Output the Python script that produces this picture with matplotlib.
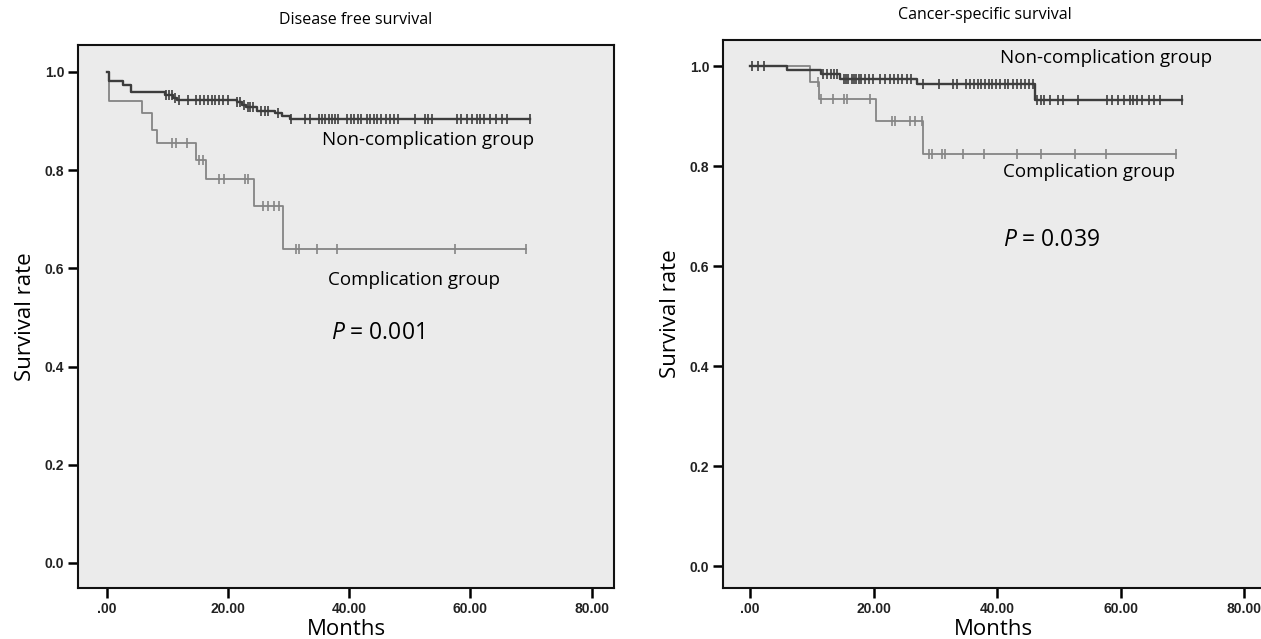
import numpy as np
import matplotlib
matplotlib.use('Agg')
import matplotlib.pyplot as plt

plt.rcParams['mathtext.fontset'] = 'custom'
plt.rcParams['mathtext.it'] = 'Open Sans:italic'
plt.rcParams['mathtext.rm'] = 'Open Sans'

# Disease free survival (left panel)
dfs_non_t = [0, 0.3, 2.7, 3.9, 9.6, 10.8, 11.5, 21.4, 22.2, 23.0, 24.8, 27.7, 28.8, 30.2, 69.8]
dfs_non_s = [1.0, 0.982, 0.974, 0.959, 0.953, 0.948, 0.942, 0.938, 0.933, 0.929, 0.921, 0.916, 0.910, 0.905, 0.905]
dfs_non_cens = [9.8, 10.3, 10.7, 11.2, 11.9, 13.3, 14.7, 15.3, 16.0, 16.7, 17.3, 17.8, 18.4, 19.2, 19.9,
                21.4, 22.0, 22.6, 23.2, 23.6, 24.1, 25.4, 26.0, 26.5, 28.3, 30.3, 32.7, 33.5, 35.0, 35.5,
                36.0, 36.6, 37.2, 37.6, 38.1, 39.6, 40.2, 40.8, 41.4, 42.0, 42.9, 43.4, 44.0, 44.6, 45.3,
                46.0, 46.7, 47.4, 48.0, 50.8, 52.5, 53.0, 53.6, 57.7, 58.5, 59.5, 60.3, 61.0, 61.6, 62.3,
                63.2, 64.2, 65.2, 66.0, 69.8]
dfs_comp_t = [0, 0.3, 5.7, 7.4, 8.2, 14.7, 16.3, 24.3, 29.0, 69.1]
dfs_comp_s = [1.0, 0.940, 0.916, 0.882, 0.856, 0.821, 0.783, 0.728, 0.639, 0.639]
dfs_comp_cens = [10.7, 11.3, 13.2, 15.1, 15.9, 18.5, 19.3, 22.8, 23.3, 25.8, 26.6, 27.6, 28.4,
                 31.2, 31.7, 34.6, 37.9, 57.5, 69.1]

# Cancer-specific survival (right panel)
css_non_t = [0, 5.9, 11.4, 14.6, 27.0, 46.1, 69.9]
css_non_s = [1.0, 0.992, 0.985, 0.975, 0.964, 0.932, 0.932]
css_non_cens = [0.3, 1.2, 2.2, 11.8, 12.5, 13.0, 13.6, 14.0, 15.1, 15.5, 15.9, 16.4, 16.8, 17.2, 17.6,
                18.0, 18.6, 19.2, 19.9, 21.0, 21.8, 22.6, 23.3, 24.0, 24.6, 25.3, 26.0, 28.0, 30.6, 32.9,
                33.4, 35.0, 35.6, 36.2, 36.8, 37.4, 38.0, 38.6, 39.2, 39.8, 40.5, 41.2, 41.8, 42.5, 43.2,
                43.8, 44.5, 45.2, 45.8, 46.4, 47.0, 47.6, 48.5, 49.9, 50.7, 53.1, 57.7, 58.5, 59.5, 60.5,
                61.5, 62.0, 62.6, 63.5, 64.5, 65.4, 66.3, 69.9]
css_comp_t = [0, 9.7, 11.2, 20.4, 28.0, 69.0]
css_comp_s = [1.0, 0.969, 0.935, 0.891, 0.825, 0.825]
css_comp_cens = [10.9, 11.4, 13.4, 15.2, 15.7, 19.4, 22.9, 23.5, 25.9, 26.7, 27.8, 28.9, 29.4, 31.0,
                 31.6, 34.4, 37.9, 43.2, 47.0, 52.5, 57.6, 69.0]

xticks = [0, 20, 40, 60, 80]
xtick_labels = ['.00', '20.00', '40.00', '60.00', '80.00']
yticks = [0.0, 0.2, 0.4, 0.6, 0.8, 1.0]
ytick_labels = ['0.0', '0.2', '0.4', '0.6', '0.8', '1.0']

DARK = '#3d3d3d'
LIGHT = '#858585'
TXT_FONT = ['Open Sans', 'DejaVu Sans']
TICK_FONT = ['Liberation Sans', 'DejaVu Sans']


def surv_at(times, t, s):
    # value of the step curve at each censor time
    idx = np.searchsorted(t, times, side='right') - 1
    return np.array(s)[idx]


def draw_curve(ax, t, s, cens, color, lw):
    ax.plot(t, s, drawstyle='steps-post', color=color, lw=lw)
    ax.plot(cens, surv_at(cens, t, s), ls='none', marker='|', ms=7, mew=1.2, color=color)


def style_axes(ax, xlim, ylim):
    ax.set_facecolor('#ebebeb')
    ax.set_xlim(*xlim)
    ax.set_ylim(*ylim)
    ax.set_xticks(xticks)
    ax.set_xticklabels(xtick_labels, family=TICK_FONT, fontsize=10, fontweight='bold', color='#222222')
    ax.set_yticks(yticks)
    ax.set_yticklabels(ytick_labels, family=TICK_FONT, fontsize=10, fontweight='bold', color='#222222')
    ax.tick_params(direction='out', length=7, width=1.8, pad=3, top=False, right=False)
    for sp in ax.spines.values():
        sp.set_linewidth(1.5)
        sp.set_color('#111111')
    ax.set_xlabel('Months', family=TXT_FONT, fontsize=16, labelpad=2)
    ax.set_ylabel('Survival rate', family=TXT_FONT, fontsize=16, labelpad=6)


fig = plt.figure(figsize=(12.61, 6.39), dpi=100)

ax1 = fig.add_axes([0.0619, 0.0798, 0.425, 0.8498])
draw_curve(ax1, dfs_comp_t, dfs_comp_s, dfs_comp_cens, LIGHT, 1.3)
draw_curve(ax1, dfs_non_t, dfs_non_s, dfs_non_cens, DARK, 1.7)
style_axes(ax1, (-4.8, 83.7), (-0.051, 1.055))
ax1.set_title('Disease free survival', family=TXT_FONT, fontsize=11.5, pad=15, x=0.517)
ax1.text(35.5, 0.8615, 'Non-complication group', family=TXT_FONT, fontsize=13.5, va='center')
ax1.text(36.5, 0.576, 'Complication group', family=TXT_FONT, fontsize=13.5, va='center')
ax1.text(37.0, 0.468, '$P$ = 0.001', family=TXT_FONT, fontsize=16.5, va='center')

ax2 = fig.add_axes([0.5734, 0.0798, 0.4296, 0.8576])
draw_curve(ax2, css_comp_t, css_comp_s, css_comp_cens, LIGHT, 1.3)
draw_curve(ax2, css_non_t, css_non_s, css_non_cens, DARK, 1.7)
style_axes(ax2, (-4.4, 83.3), (-0.044, 1.052))
ax2.set_title('Cancer-specific survival', family=TXT_FONT, fontsize=11.5, pad=15, x=0.483)
ax2.text(40.5, 1.016, 'Non-complication group', family=TXT_FONT, fontsize=13.5, va='center')
ax2.text(41.0, 0.788, 'Complication group', family=TXT_FONT, fontsize=13.5, va='center')
ax2.text(41.0, 0.652, '$P$ = 0.039', family=TXT_FONT, fontsize=16.5, va='center')

fig.savefig('out.png', dpi=100)
